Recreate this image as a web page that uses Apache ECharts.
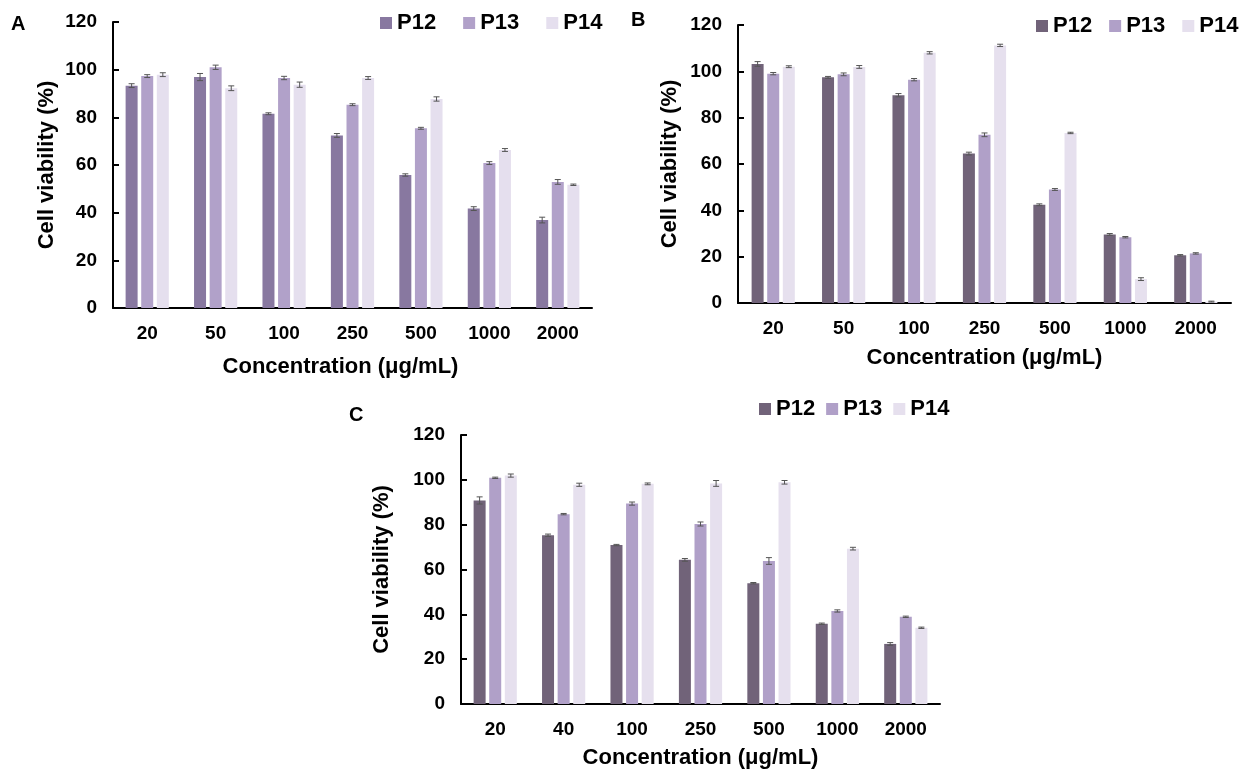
<!DOCTYPE html>
<html>
<head>
<meta charset="utf-8">
<script src="https://cdn.jsdelivr.net/npm/echarts@6/dist/echarts.min.js"></script>
<style>
html,body{margin:0;padding:0;background:#fff;}
#c{width:1243px;height:771px;}
</style>
</head>
<body>
<div id="c"></div>
<script>
// ---- data ----
const seriesNames = ['P12', 'P13', 'P14'];
const catsAB = ['20', '50', '100', '250', '500', '1000', '2000'];
const catsC = ['20', '40', '100', '250', '500', '1000', '2000'];
const yTicks = [0, 20, 40, 60, 80, 100, 120];

const A_P12 = [93.3, 96.9, 81.5, 72.4, 55.8, 41.7, 36.9];
const A_P13 = [97.3, 101.0, 96.5, 85.3, 75.4, 60.8, 52.9];
const A_P14 = [97.9, 92.2, 93.7, 96.5, 87.7, 66.3, 51.7];
const A_P12_err = [0.8, 1.5, 0.4, 0.8, 0.5, 0.8, 1.2];
const A_P13_err = [0.6, 0.9, 0.7, 0.4, 0.4, 0.6, 1.0];
const A_P14_err = [0.8, 1.0, 1.1, 0.6, 0.9, 0.6, 0.3];

const B_P12 = [103.2, 97.4, 89.7, 64.5, 42.4, 29.6, 20.6];
const B_P13 = [99.0, 98.7, 96.4, 72.6, 49.0, 28.4, 21.4];
const B_P14 = [102.0, 101.9, 108.0, 111.2, 73.4, 10.3, 0.6];
const B_P12_err = [1.0, 0.4, 0.7, 0.6, 0.4, 0.4, 0.3];
const B_P13_err = [0.5, 0.6, 0.5, 0.8, 0.4, 0.3, 0.3];
const B_P14_err = [0.4, 0.6, 0.5, 0.5, 0.3, 0.6, 0.2];

const C_P12 = [90.8, 75.3, 70.9, 64.3, 53.9, 35.8, 26.8];
const C_P13 = [100.9, 84.7, 89.4, 80.3, 63.8, 41.5, 38.9];
const C_P14 = [101.9, 97.8, 98.2, 98.4, 98.9, 69.3, 34.0];
const C_P12_err = [1.6, 0.5, 0.3, 0.6, 0.3, 0.3, 0.6];
const C_P13_err = [0.3, 0.3, 0.7, 0.9, 1.5, 0.5, 0.3];
const C_P14_err = [0.7, 0.7, 0.4, 1.3, 0.8, 0.6, 0.3];

// ---- style ----
const colorsA = ['#8878a0', '#b1a1c9', '#e5dfee'];
const colorsBC = ['#716379', '#b0a0c8', '#e6e0ee'];
const FONT = 'Liberation Sans, Arial, sans-serif';
const BAR_W = 12;
const BAR_GAP = 0.3;
const OFFSET = BAR_W * (1 + BAR_GAP);

const panels = [
  {cats: catsAB, vals: [A_P12, A_P13, A_P14], errs: [A_P12_err, A_P13_err, A_P14_err], colors: colorsA,
   grid: {left: 113, top: 22, width: 479, height: 286}, yGap: 55, xGap: 48, xShift: 24,
   legend: {left: 380, top: 12, itemGap: 27, width: 250}},
  {cats: catsAB, vals: [B_P12, B_P13, B_P14], errs: [B_P12_err, B_P13_err, B_P14_err], colors: colorsBC,
   grid: {left: 738, top: 25, width: 493, height: 278}, yGap: 57, xGap: 44, xShift: 0,
   legend: {left: 1036, top: 15, itemGap: 17, width: 207}},
  {cats: catsC, vals: [C_P12, C_P13, C_P14], errs: [C_P12_err, C_P13_err, C_P14_err], colors: colorsBC,
   grid: {left: 461, top: 435, width: 479, height: 269}, yGap: 68, xGap: 43, xShift: 0,
   legend: {left: 759, top: 398, itemGap: 11, width: 250}}
];

const grids = [], xAxes = [], yAxes = [], series = [], legends = [];
panels.forEach((p, pi) => {
  grids.push(Object.assign({containLabel: false}, p.grid));
  xAxes.push({
    type: 'category', gridIndex: pi, data: p.cats,
    name: 'Concentration (μg/mL)', nameLocation: 'middle', nameGap: p.xGap,
    nameTextStyle: {fontFamily: FONT, fontWeight: 'bold', fontSize: 22, color: '#000',
                    padding: [0, p.xShift, 0, 0]},
    axisLine: {lineStyle: {color: '#000', width: 2}},
    axisTick: {inside: true, length: 6, lineStyle: {color: '#000', width: 2}},
    axisLabel: {fontFamily: FONT, fontWeight: 'bold', fontSize: 19, color: '#000', margin: 16},
    splitLine: {show: false}
  });
  yAxes.push({
    type: 'value', gridIndex: pi, min: yTicks[0], max: yTicks[yTicks.length - 1], interval: 20,
    name: 'Cell viability (%)', nameLocation: 'middle', nameGap: p.yGap,
    nameTextStyle: {fontFamily: FONT, fontWeight: 'bold', fontSize: 22, color: '#000'},
    axisLine: {show: true, lineStyle: {color: '#000', width: 2}},
    axisTick: {show: true, inside: true, length: 6, lineStyle: {color: '#000', width: 2}},
    axisLabel: {fontFamily: FONT, fontWeight: 'bold', fontSize: 19, color: '#000', margin: 16},
    splitLine: {show: false}
  });
  seriesNames.forEach((nm, si) => {
    series.push({
      type: 'bar', name: nm, xAxisIndex: pi, yAxisIndex: pi,
      data: p.vals[si], barWidth: BAR_W, barGap: (BAR_GAP * 100) + '%',
      itemStyle: {color: p.colors[si]}, animation: false
    });
  });
  seriesNames.forEach((nm, si) => {
    const off = (si - 1) * OFFSET;
    series.push({
      type: 'custom', name: 'err' + pi + si, xAxisIndex: pi, yAxisIndex: pi,
      data: p.vals[si].map((v, i) => [i, v, p.errs[si][i]]),
      z: 10, silent: true, animation: false,
      renderItem: function (params, api) {
        const i = api.value(0), v = api.value(1), e = api.value(2);
        const top = api.coord([i, v + e]);
        const bot = api.coord([i, v - e]);
        const x = top[0] + off;
        const cap = 3;
        const st = {stroke: '#555', lineWidth: 1};
        return {type: 'group', children: [
          {type: 'line', shape: {x1: x, y1: top[1], x2: x, y2: bot[1]}, style: st},
          {type: 'line', shape: {x1: x - cap, y1: top[1], x2: x + cap, y2: top[1]}, style: st},
          {type: 'line', shape: {x1: x - cap, y1: bot[1], x2: x + cap, y2: bot[1]}, style: st}
        ]};
      }
    });
  });
  legends.push(Object.assign({
    orient: 'horizontal', itemWidth: 12, itemHeight: 12, selectedMode: false,
    padding: 0,
    textStyle: {fontFamily: FONT, fontWeight: 'bold', fontSize: 22, color: '#000'},
    data: seriesNames.map((nm, si) => ({name: nm, icon: 'rect', itemStyle: {color: p.colors[si]}}))
  }, p.legend));
});

const titleStyle = {fontFamily: FONT, fontWeight: 'bold', fontSize: 20, color: '#000'};
const option = {
  backgroundColor: '#fff',
  animation: false,
  title: [
    {text: 'A', left: 11, top: 14, padding: 0, textStyle: titleStyle},
    {text: 'B', left: 631, top: 10, padding: 0, textStyle: titleStyle},
    {text: 'C', left: 349, top: 405, padding: 0, textStyle: titleStyle}
  ],
  legend: legends,
  grid: grids,
  xAxis: xAxes,
  yAxis: yAxes,
  series: series
};
const chart = echarts.init(document.getElementById('c'), null, {renderer: 'canvas'});
chart.setOption(option);
</script>
</body>
</html>
